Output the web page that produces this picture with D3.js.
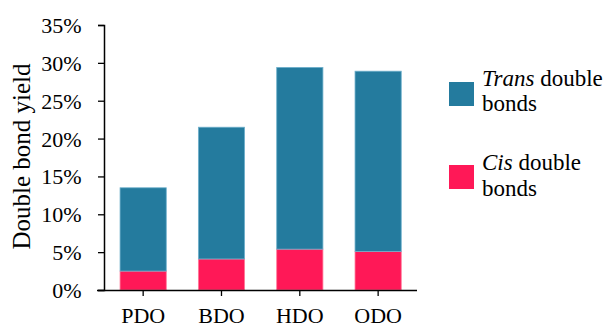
<!DOCTYPE html>
<html><head><meta charset="utf-8">
<script src="https://cdn.jsdelivr.net/npm/d3@7"></script>
<style>body{margin:0;background:#fff;} svg{display:block;} text{font-family:"Liberation Serif","Times New Roman",Times,"DejaVu Serif",serif;}</style>
</head><body>
<svg id="c" width="608" height="327"></svg>
<script>
const categories = ["PDO","BDO","HDO","ODO"];
const cisValues = [2.5, 4.1, 5.4, 5.1];
const transValues = [11.0, 17.4, 24.0, 23.8];
const yTicks = [0,5,10,15,20,25,30,35];
const colors = {Trans:"#247b9e", Cis:"#ff1857"};

const svg = d3.select("#c");
const x = d3.scaleBand().domain(categories).range([104, 417.3]).paddingInner(0.41).paddingOuter(0.205);
const y = d3.scaleLinear().domain([0,35]).range([290, 25]);

const rows = categories.map((c,i)=>({cat:c, Cis:cisValues[i], Trans:transValues[i]}));
const stack = d3.stack().keys(["Cis","Trans"])(rows);

svg.append("g").selectAll("g").data(stack).join("g")
  .attr("fill", d=>colors[d.key])
  .attr("stroke", d=>d.key==="Trans" ? "#6fb0cc" : "#ff7a9a")
  .attr("stroke-width", 0.8)
  .selectAll("rect").data(d=>d).join("rect")
  .attr("x", d=>x(d.data.cat))
  .attr("width", x.bandwidth())
  .attr("y", d=>y(d[1]))
  .attr("height", d=>y(d[0])-y(d[1]));

const yAxis = d3.axisLeft(y).tickValues(yTicks).tickSize(6).tickFormat(d=>d+"%");
const gy = svg.append("g").attr("transform","translate(104,0)").call(yAxis).attr("font-family",null);
gy.select(".domain").attr("d","M-6,25.5H0.5V290.5H-6").attr("stroke","#000").attr("stroke-width",1.5);
gy.selectAll(".tick line").attr("stroke","#000").attr("stroke-width",1.3);
gy.selectAll(".tick text").style("font-size","22px").attr("fill","#000").attr("x",-22.5).attr("dy","0.34em");

const xAxis = d3.axisBottom(x).tickSize(6).tickSizeOuter(0);
const gx = svg.append("g").attr("transform","translate(0,290)").call(xAxis).attr("font-family",null);
gx.select(".domain").attr("d","M97,0.5H417").attr("stroke","#000").attr("stroke-width",1.5);
gx.selectAll(".tick line").attr("stroke","#000").attr("stroke-width",1.3);
gx.selectAll(".tick text").style("font-size","22px").attr("fill","#000").attr("y",33).attr("dy",0);

svg.append("text").attr("transform","translate(29.5,156.5) rotate(-90)")
  .attr("text-anchor","middle").style("font-size","25px").attr("fill","#000")
  .text("Double bond yield");

const leg = [
  {key:"Trans", y:82, l1:85.5, l2:111},
  {key:"Cis", y:165, l1:170, l2:196}
];
leg.forEach(d=>{
  svg.append("rect").attr("x",449).attr("y",d.y).attr("width",25).attr("height",24).attr("fill",colors[d.key]);
  const t = svg.append("text").attr("x",482).attr("y",d.l1).style("font-size","23px").attr("fill","#000");
  t.append("tspan").attr("font-style","italic").text(d.key);
  t.append("tspan").text(" double");
  svg.append("text").attr("x",482).attr("y",d.l2).style("font-size","23px").attr("fill","#000").text("bonds");
});
</script>
</body></html>
